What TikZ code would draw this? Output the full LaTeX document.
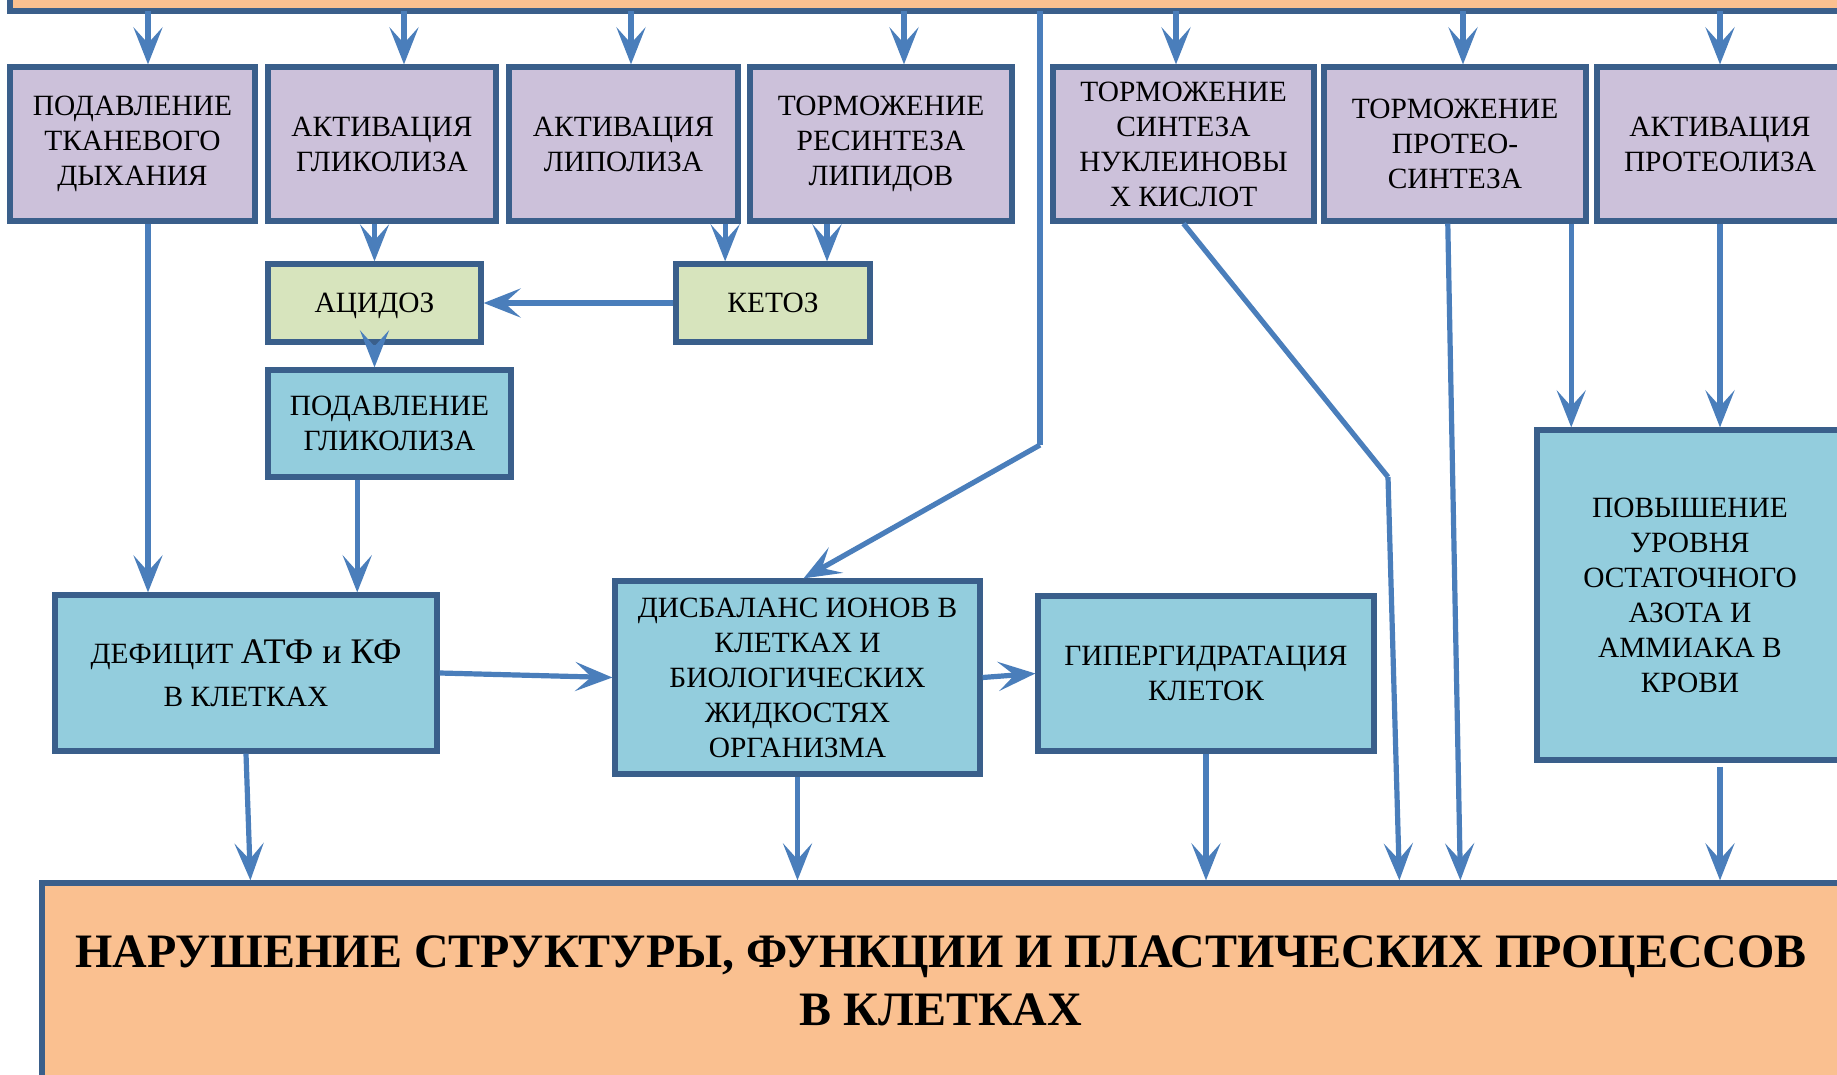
\documentclass[tikz,border=0pt]{standalone}
\usepackage{fontspec}
\setmainfont{Liberation Serif}
\usetikzlibrary{arrows.meta,calc}
\definecolor{orangefill}{HTML}{FAC090}
\definecolor{purplefill}{HTML}{CCC1DA}
\definecolor{greenfill}{HTML}{D7E4BD}
\definecolor{bluefill}{HTML}{93CDDD}
\definecolor{edgeblue}{HTML}{3A5F8B}
\definecolor{arrowblue}{HTML}{4A7EBB}
\begin{document}
\begin{tikzpicture}[x=0.5pt,y=-0.5pt,
 box/.style={draw=edgeblue, line width=2.6pt, align=center, inner sep=2pt, font=\fontsize{14.7}{17.5}\selectfont, text=black},
 pbox/.style={box, fill=purplefill, minimum height=77pt},
 gbox/.style={box, fill=greenfill, minimum height=39pt, text height=10pt, text depth=0.4pt},
 bbox/.style={box, fill=bluefill},
 obox/.style={draw=edgeblue, line width=2.6pt, fill=orangefill},
 conn/.style={draw=arrowblue, line width=2.6pt, line join=round},
 arr/.style={conn, -{Stealth[length=18.5pt,width=14.5pt,inset=8pt]}},
]
\useasboundingbox (0,0) rectangle (1837,1075);
\clip (0,0) rectangle (1837,1075);
% big boxes
\node[obox, minimum width=945pt, minimum height=41pt] (top) at (955,-30) {};
\node[obox, minimum width=929pt, minimum height=108.5pt] (bot) at (971,991.5) {};
\node[font={\fontsize{24}{29}\selectfont\bfseries}, align=center] (bottxt) at (941,981)
  {НАРУШЕНИЕ СТРУКТУРЫ, ФУНКЦИИ И ПЛАСТИЧЕСКИХ ПРОЦЕССОВ\\В КЛЕТКАХ};
% row 1
\node[pbox, minimum width=122.5pt] (b1) at (132.5,144) {ПОДАВЛЕНИЕ\\ТКАНЕВОГО\\ДЫХАНИЯ};
\node[pbox, minimum width=114pt] (b2) at (382,144) {АКТИВАЦИЯ\\ГЛИКОЛИЗА};
\node[pbox, minimum width=114.5pt] (b3) at (623.5,144) {АКТИВАЦИЯ\\ЛИПОЛИЗА};
\node[pbox, minimum width=131pt] (b4) at (881,144) {ТОРМОЖЕНИЕ\\РЕСИНТЕЗА\\ЛИПИДОВ};
\node[pbox, minimum width=130.5pt] (b5) at (1183.5,144) {ТОРМОЖЕНИЕ\\СИНТЕЗА\\НУКЛЕИНОВЫ\\Х КИСЛОТ};
\node[pbox, minimum width=131pt] (b6) at (1455,144) {ТОРМОЖЕНИЕ\\ПРОТЕО-\\СИНТЕЗА};
\node[pbox, minimum width=123pt] (b7) at (1720,144) {АКТИВАЦИЯ\\ПРОТЕОЛИЗА};
% middle
\node[gbox, minimum width=106.5pt] (acid) at (374.5,303) {АЦИДОЗ};
\node[gbox, minimum width=97pt] (ketoz) at (773,303) {КЕТОЗ};
\node[bbox, minimum width=121.5pt, minimum height=53.5pt] (podgl) at (389.5,423.5) {ПОДАВЛЕНИЕ\\ГЛИКОЛИЗА};
\node[bbox, minimum width=191pt, minimum height=78pt] (def) at (246,673)
  {ДЕФИЦИТ {\fontsize{18}{18}\selectfont АТФ и КФ}\\[4pt]В КЛЕТКАХ};
\node[bbox, minimum width=182.5pt, minimum height=96.5pt] (dis) at (797.5,677.5)
  {ДИСБАЛАНС ИОНОВ В\\КЛЕТКАХ И\\БИОЛОГИЧЕСКИХ\\ЖИДКОСТЯХ\\ОРГАНИЗМА};
\node[bbox, minimum width=168pt, minimum height=77.5pt] (hyp) at (1206,673.5) {ГИПЕРГИДРАТАЦИЯ\\КЛЕТОК};
\node[bbox, minimum width=153pt, minimum height=165pt] (pov) at (1690,595)
  {ПОВЫШЕНИЕ\\УРОВНЯ\\ОСТАТОЧНОГО\\АЗОТА И\\АММИАКА В\\КРОВИ};
% coordinates
\coordinate (t1) at (148,11);
\coordinate (t2) at (404,11);
\coordinate (t3) at (631,11);
\coordinate (t4) at (904,11);
\coordinate (t5) at (1176,11);
\coordinate (t6) at (1463,11);
\coordinate (t7) at (1720,11);
\coordinate (tv) at (1040,11);
\coordinate (kink) at (1040,445);
\coordinate (kink2) at (1388,477);
\coordinate (s3) at ($(b3.south west)!0.934!(b3.south east)$);
\coordinate (s4) at ($(b4.south west)!0.298!(b4.south east)$);
\coordinate (sp) at ($(podgl.south west)!0.37!(podgl.south east)$);
\coordinate (s6a) at ($(b6.south west)!0.473!(b6.south east)$);
\coordinate (s6b) at ($(b6.south west)!0.935!(b6.south east)$);
% arrows from top
\foreach \t/\b in {t1/b1,t2/b2,t3/b3,t4/b4,t5/b5,t6/b6,t7/b7}
  \draw[arr] (\t) -- (\t |- \b.north);
\draw[conn] (tv) -- (kink);
\draw[arr] (kink) -- ($(dis.north)+(6,0)$);
% row 1 down
\draw[arr] (t1 |- b1.south) -- (t1 |- def.north);
\draw[arr] (acid.north |- b2.south) -- (acid.north);
\draw[arr] (s3) -- (s3 |- ketoz.north);
\draw[arr] (s4) -- (s4 |- ketoz.north);
\draw[arr] (ketoz.west) -- (acid.east);
\draw[arr] (acid.south) -- (acid.south |- podgl.north);
\draw[arr] (sp) -- (sp |- def.north);
\draw[arr] (def.east) -- (dis.west);
\draw[arr] (dis.east) -- (hyp.west);
\draw[arr] (def.south) -- ($(bot.north west)+(211,0)$);
\draw[arr] (dis.south) -- (dis.south |- bot.north);
\draw[arr] (hyp.south) -- (hyp.south |- bot.north);
\draw[conn] (b5.south) -- (kink2);
\draw[arr] (kink2) -- ($(bot.north west)+(1360,0)$);
\draw[arr] (s6a) -- ($(bot.north west)+(1421,0)$);
\draw[arr] (s6b) -- (s6b |- pov.north);
\draw[arr] (b7.south) -- (b7.south |- pov.north);
\draw[arr] ($(b7.south |- pov.south)+(0,4)$) -- (b7.south |- bot.north);
\end{tikzpicture}
\end{document}
